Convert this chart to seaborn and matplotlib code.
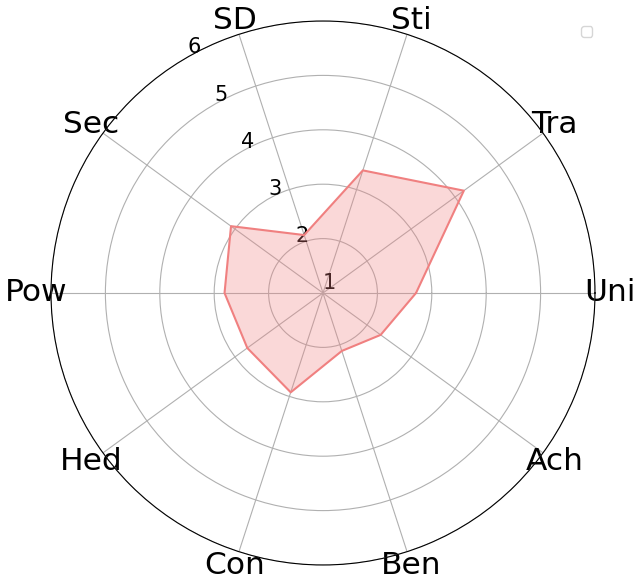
import numpy as np
import pandas as pd
import matplotlib.pyplot as plt
import seaborn as sns

# Values
categories = ["Uni", "Tra", "Sti", "SD", "Sec", "Pow", "Hed", "Con", "Ben", "Ach"]
values = [2.71, 4.20, 3.37, 2.12, 3.09, 2.81, 2.72, 2.92, 2.12, 2.31]
r_ticks = [1, 2, 3, 4, 5, 6]

sns.set_style("white")
plt.rcParams["text.color"] = "black"
plt.rcParams["xtick.color"] = "black"
plt.rcParams["ytick.color"] = "black"

angles = np.linspace(0, 2 * np.pi, len(categories), endpoint=False)
df = pd.DataFrame({
    "theta": np.append(angles, angles[0] + 2 * np.pi),
    "r": values + values[:1],
})

fig = plt.figure(figsize=(6.4, 5.87), dpi=100)
ax = fig.add_axes([51 / 640, 22 / 587, 544 / 640, 544 / 587], polar=True)

sns.lineplot(data=df, x="theta", y="r", sort=False, estimator=None,
             color="lightcoral", linewidth=1.5, ax=ax)
ax.fill(df["theta"], df["r"], color="lightcoral", alpha=0.3, linewidth=0)

ax.set_ylim(1, 6)
ax.set_yticks(r_ticks)
ax.set_yticklabels([str(t) for t in r_ticks], fontsize=15, color="black")
ax.set_rlabel_position(120)
ax.set_xticks(angles)
ax.set_xticklabels(categories, fontsize=22.5, color="black")
ax.tick_params(axis="x", pad=0)
ax.grid(True, color="#b0b0b0", linewidth=0.8)
ax.spines["polar"].set_color("black")
ax.spines["polar"].set_linewidth(0.8)
ax.set_xlabel("")
ax.set_ylabel("")

# empty legend box, as in the original
ax.legend(loc="upper right", bbox_to_anchor=(1.008, 1.004))

plt.savefig("out.png", dpi=100)
print("saved out.png")
